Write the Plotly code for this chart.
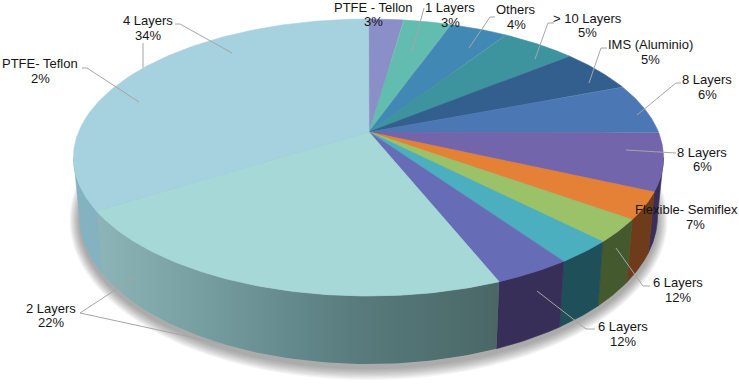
import numpy as np
import plotly.graph_objects as go

# --- data (clockwise from 12 o'clock) ---
slice_names = ["PTFE - Tellon", "1 Layers", "Others", "> 10 Layers", "IMS (Aluminio)", "8 Layers",
               "8 Layers", "Flexible- Semiflex", "6 Layers", "6 Layers", "2 Layers", "PTFE- Teflon", "4 Layers"]
label_pct = [3, 3, 4, 5, 5, 6, 6, 7, 12, 12, 22, 2, 34]
drawn_share = [1.9, 2.6, 3.2, 4.2, 4.6, 5.6, 6.9, 3.4, 3.0, 3.1, 4.2, 26.0, 31.3]

slice_colors = ["#8b8fc8", "#62bcb0", "#4288b5", "#3e949e", "#325f8e", "#4b78b4", "#7265ab",
                "#e48137", "#9bc169", "#4cafbf", "#666cb5", "#a6d8d8", "#a5d2de"]
wall_colors = [None, None, None, None, None, None, "#3a2d57",
               "#6e3c1a", "#45592e", "#1f4f59", "#382f58", "grad", "#84b2c0"]

# --- label layout (pixel coordinates of the page) ---
label_rows = [
    ("PTFE- Teflon", "2%", 40, 40, 63, 78),
    ("4 Layers", "34%", 148, 148, 20.5, 35),
    ("PTFE - Tellon", "3%", 373, 373, 7, 21),
    ("1 Layers", "3%", 450, 450, 7, 22),
    ("Others", "4%", 516, 516, 9, 24),
    ("> 10 Layers", "5%", 587, 587, 18, 32),
    ("IMS (Aluminio)", "5%", 650, 650, 44, 59),
    ("8 Layers", "6%", 707, 707, 79, 94),
    ("8 Layers", "6%", 702, 702, 152, 166),
    ("Flexible- Semiflex", "7%", 686, 695, 209, 224),
    ("6 Layers", "12%", 678, 678, 282, 297),
    ("6 Layers", "12%", 623, 623, 326, 341),
    ("2 Layers", "22%", 51, 51, 308, 322),
]
leader_x = [[82, 87, 139], [175, 180, 232], [143, 143], [424, 412], [495, 490, 469], [554, 548, 535],
            [607, 601, 589], [681, 676, 637], [676, 626], [650, 643, 616], [595, 586, 537],
            [135, 80, 223]]
leader_y = [[68, 68, 102], [24, 24, 53], [43, 68], [8, 52], [17, 17, 48], [23, 23, 59],
            [48, 48, 83], [83, 83, 115], [153, 150], [286, 286, 248], [329, 329, 291],
            [277, 313, 344]]

# --- projection geometry of the disc ---
TOP = dict(cx=368.5, cy=157.5, rx=295.0, ry=138.5)
BOT = dict(cx=368.5, cy=216.0, rx=289.0, ry=148.0)
APEX = (369.0, 132.0)


def rim(e, t0, t1, n=80):
    t = np.radians(np.linspace(t0, t1, n))
    return e["cx"] + e["rx"] * np.sin(t), e["cy"] - e["ry"] * np.cos(t)


fig = go.Figure()


def poly(x, y, color, gradient=None, width=0.6):
    kw = dict(fillcolor=color) if gradient is None else dict(fillgradient=gradient)
    fig.add_trace(go.Scatter(x=x, y=y, mode="lines", fill="toself",
                             line=dict(color=color if gradient is None else "rgba(0,0,0,0)", width=width),
                             hoverinfo="skip", showlegend=False, **kw))


# soft shadow under the disc
for k in range(10, 0, -1):
    x, y = rim(dict(cx=368.5, cy=220.0, rx=289.0 + k * 1.0, ry=148.0 + k * 1.2), 0, 360, 160)
    poly(x, y, "rgba(50,50,50,0.05)", width=0)

edges = np.concatenate([[0.0], np.cumsum(drawn_share)]) / sum(drawn_share) * 360.0

# side walls (front half only)
wall_gradient = dict(type="horizontal",
                     colorscale=[[0, "#8db4b6"], [0.3, "#739a9d"], [0.65, "#587b7d"], [1, "#4a6766"]])
for i, wc in enumerate(wall_colors):
    if wc is None:
        continue
    a, b = max(edges[i], 90.0), min(edges[i + 1], 270.0)
    if a >= b:
        continue
    xt, yt = rim(TOP, a, b)
    xb, yb = rim(BOT, b, a)
    px, py = np.r_[xt, xb, xt[0]], np.r_[yt, yb, yt[0]]
    if wc == "grad":
        poly(px, py, "#6e9699", gradient=wall_gradient)
    else:
        poly(px, py, wc)

# top face
for i, c in enumerate(slice_colors):
    xr, yr = rim(TOP, edges[i], edges[i + 1], 120)
    poly(np.r_[APEX[0], xr, APEX[0]], np.r_[APEX[1], yr, APEX[1]], c)

# leader lines
for lx, ly in zip(leader_x, leader_y):
    fig.add_trace(go.Scatter(x=lx, y=ly, mode="lines", line=dict(color="#a6a6a6", width=1),
                             hoverinfo="skip", showlegend=False))

# labels
font = dict(family="Liberation Sans, Arial, sans-serif", size=13, color="#141414")
for name, pct, x1, x2, y1, y2 in label_rows:
    for txt, x, y in ((name, x1, y1), (pct, x2, y2)):
        fig.add_annotation(x=x, y=y, text=txt, showarrow=False, font=font,
                           xanchor="center", yanchor="middle", xref="x", yref="y",
                           borderpad=0, borderwidth=0)

fig.update_layout(width=739, height=386, margin=dict(l=0, r=0, t=0, b=0),
                  paper_bgcolor="white", plot_bgcolor="white", showlegend=False,
                  xaxis=dict(range=[0, 739], visible=False, fixedrange=True),
                  yaxis=dict(range=[386, 0], visible=False, fixedrange=True))

fig.write_html("out.html", config=dict(displayModeBar=False),
               post_script="document.body.style.margin='0';document.body.style.overflow='hidden';")
